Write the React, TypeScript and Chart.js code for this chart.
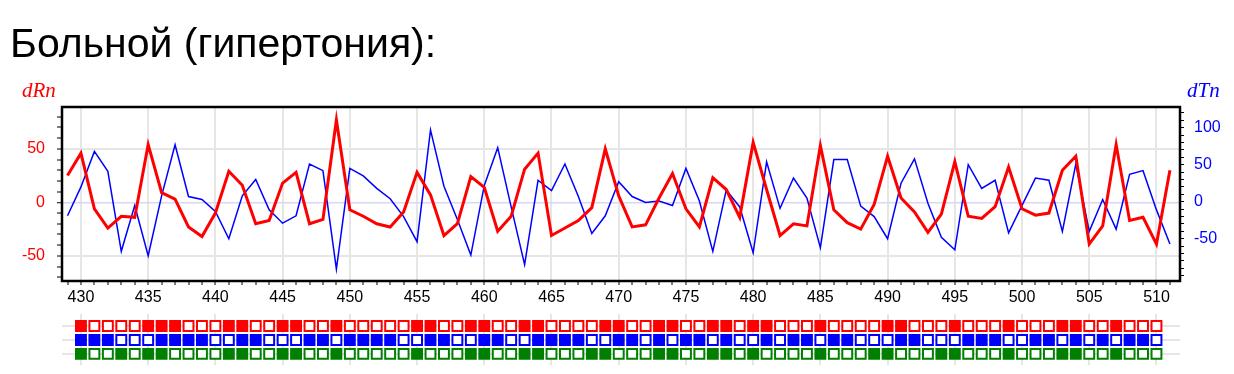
import React, { useEffect, useRef } from 'react';
import { Chart, registerables } from 'chart.js';

Chart.register(...registerables);

const titleText = 'Больной (гипертония):';
const leftAxisTitle = 'dRn';
const rightAxisTitle = 'dTn';

// first measurement index of the line series
const firstIndex = 429;

// dRn (red, left axis), indices 429..511
const dRn = [
  25, 46, -6, -24, -13, -14, 54, 9, 3, -23,
  -32, -10, 29, 16, -20, -17, 18, 28, -20, -16,
  77, -7, -13, -20, -23, -9, 28, 7, -31, -20,
  24, 14, -27, -13, 31, 46, -31, -24, -17, -5,
  50, 6, -23, -21, 4, 27, -6, -23, 23, 12,
  -14, 56, 12, -31, -20, -22, 53, -7, -19, -25,
  -2, 43, 4, -9, -28, -11, 38, -13, -15, -4,
  33, -6, -12, -10, 30, 43, -39, -22, 54, -17,
  -14, -39, 30,
];

// dTn (blue, right axis), indices 429..511
const dTn = [
  -19, 20, 68, 41, -67, -5, -73, 8, 77, 7,
  3, -13, -50, 8, 30, -11, -29, -19, 51, 42,
  -91, 45, 35, 18, 4, -20, -54, 97, 21, -24,
  -72, 22, 73, -7, -85, 29, 15, 51, 7, -43,
  -19, 27, 7, -1, 1, -5, 45, 1, -67, 16,
  -7, -69, 54, -9, 32, 5, -62, 57, 57, -6,
  -20, -50, 25, 58, -2, -48, -65, 50, 18, 29,
  -42, -5, 32, 29, -40, 51, -40, 3, -37, 37,
  42, -11, -57,
];

// indicator rows (1 = filled square, 0 = empty square), indices 430..510
const flagStart = 430;
const redFlags = [
  1, 0, 0, 0, 0, 1, 1, 1, 0, 0, 0, 1, 1, 0, 0, 1, 1, 0, 0, 1,
  0, 0, 0, 0, 0, 1, 1, 0, 0, 1, 1, 0, 0, 1, 1, 0, 0, 0, 0, 1,
  1, 0, 0, 1, 1, 0, 0, 1, 1, 0, 1, 1, 0, 0, 0, 1, 0, 0, 0, 0,
  1, 1, 0, 0, 0, 1, 0, 0, 0, 1, 0, 0, 0, 1, 1, 0, 0, 1, 0, 0,
  0,
];
const blueFlags = [
  1, 1, 1, 0, 0, 0, 1, 1, 1, 1, 0, 0, 1, 1, 0, 0, 0, 1, 1, 0,
  1, 1, 1, 1, 0, 0, 1, 1, 0, 0, 1, 1, 0, 0, 1, 1, 1, 1, 0, 0,
  1, 1, 0, 1, 0, 1, 1, 0, 1, 0, 0, 1, 0, 1, 1, 0, 1, 1, 0, 0,
  0, 1, 1, 0, 0, 0, 1, 1, 1, 0, 0, 1, 1, 0, 1, 0, 1, 0, 1, 1,
  0,
];
const greenFlags = [
  1, 0, 0, 1, 0, 1, 1, 0, 0, 0, 0, 1, 1, 0, 0, 1, 1, 0, 0, 1,
  0, 0, 0, 0, 0, 1, 0, 0, 0, 1, 1, 0, 0, 1, 1, 0, 0, 0, 1, 1,
  0, 0, 0, 1, 1, 0, 0, 1, 1, 0, 1, 0, 0, 0, 0, 1, 0, 0, 0, 1,
  1, 0, 0, 0, 1, 1, 0, 0, 0, 1, 0, 0, 0, 1, 1, 0, 0, 1, 0, 0,
  0,
];

const xTickLabelStep = 5;
const leftTickLabels = [-50, 0, 50];
const rightTickLabels = [-50, 0, 50, 100];

const RED = '#ff0000';
const BLUE = '#0000ff';
const GREEN = '#008000';
const GRID = '#e6e6e6';
const ZERO = '#d8d8f6';
const TRANSPARENT = 'rgba(0,0,0,0)';

const X_MIN = 428.59;
const X_MAX = 511.75;

const W = 1234;
const H1 = 305;
const H2 = 69;

const integerTicks = (scale: any, step: number) => {
  const out: any[] = [];
  const start = Math.ceil(scale.min / step);
  const end = Math.floor(scale.max / step);
  for (let k = start; k <= end; k++) out.push({ value: k * step });
  scale.ticks = out;
};

const decorPlugin = {
  id: 'decor',
  afterDraw(chart: any) {
    const { ctx, chartArea: a } = chart;
    ctx.save();
    ctx.strokeStyle = '#000';
    ctx.lineWidth = 2.5;
    ctx.strokeRect(a.left, a.top, a.right - a.left, a.bottom - a.top);
    ctx.textAlign = 'left';
    ctx.textBaseline = 'alphabetic';
    ctx.fillStyle = '#000';
    ctx.font = '41px "Liberation Sans", Arial, sans-serif';
    ctx.fillText(titleText, 10, 57);
    ctx.font = 'italic 21px "Liberation Serif", "Times New Roman", serif';
    ctx.fillStyle = RED;
    ctx.fillText(leftAxisTitle, 22, 97);
    ctx.fillStyle = BLUE;
    ctx.fillText(rightAxisTitle, 1187, 97);
    ctx.restore();
  },
};

export default function App() {
  const lineRef = useRef<HTMLCanvasElement | null>(null);
  const flagRef = useRef<HTMLCanvasElement | null>(null);

  useEffect(() => {
    document.body.style.margin = '0';
    const font = { family: '"Liberation Sans", Arial, sans-serif', size: 16 };

    const lineChart = new Chart(lineRef.current as HTMLCanvasElement, {
      type: 'line',
      data: {
        datasets: [
          {
            label: 'dRn',
            data: dRn.map((v, i) => ({ x: firstIndex + i, y: v })),
            borderColor: RED,
            backgroundColor: RED,
            borderWidth: 3,
            pointRadius: 0,
            tension: 0,
            yAxisID: 'y',
          },
          {
            label: 'dTn',
            data: dTn.map((v, i) => ({ x: firstIndex + i, y: v })),
            borderColor: BLUE,
            backgroundColor: BLUE,
            borderWidth: 1.5,
            pointRadius: 0,
            tension: 0,
            yAxisID: 'y1',
          },
        ],
      },
      options: {
        animation: false,
        responsive: false,
        layout: { padding: { top: 107, left: 0, right: 0, bottom: 0 } },
        plugins: { legend: { display: false }, tooltip: { enabled: false }, title: { display: false } },
        scales: {
          x: {
            type: 'linear',
            min: X_MIN,
            max: X_MAX,
            afterBuildTicks: (s: any) => integerTicks(s, 1),
            afterFit: (s: any) => { s.height = 24; },
            ticks: {
              autoSkip: false,
              maxRotation: 0,
              minRotation: 0,
              padding: 3,
              color: '#000',
              font,
              callback: (v: any) => (v % xTickLabelStep === 0 ? String(v) : ''),
            },
            grid: {
              lineWidth: 2,
              tickLength: 4,
              tickWidth: 1,
              color: (c: any) => (c.tick && c.tick.value % xTickLabelStep === 0 ? GRID : TRANSPARENT),
              tickColor: '#000',
            },
            border: { display: false },
          },
          y: {
            type: 'linear',
            position: 'left',
            min: -73.5,
            max: 89.1,
            afterBuildTicks: (s: any) => integerTicks(s, 10),
            afterFit: (s: any) => { s.width = 62; },
            ticks: {
              autoSkip: false,
              padding: 12,
              color: RED,
              font,
              callback: (v: any) => (leftTickLabels.includes(v) ? String(v) : ''),
            },
            grid: {
              lineWidth: (c: any) => (c.tick && c.tick.value === 0 ? 1.5 : 2),
              tickLength: 5,
              tickWidth: 1,
              color: (c: any) => {
                if (!c.tick) return TRANSPARENT;
                if (c.tick.value === 0) return ZERO;
                return leftTickLabels.includes(c.tick.value) ? GRID : TRANSPARENT;
              },
              tickColor: '#000',
            },
            border: { display: false },
          },
          y1: {
            type: 'linear',
            position: 'right',
            min: -107.1,
            max: 128,
            afterBuildTicks: (s: any) => integerTicks(s, 10),
            afterFit: (s: any) => { s.width = 54; },
            ticks: {
              autoSkip: false,
              padding: 10,
              color: BLUE,
              font,
              callback: (v: any) => (rightTickLabels.includes(v) ? String(v) : ''),
            },
            grid: {
              drawOnChartArea: false,
              tickLength: 4,
              tickWidth: 1,
              tickColor: '#000',
            },
            border: { display: false },
          },
        },
      },
      plugins: [decorPlugin],
    } as any);

    const rows = [
      { flags: redFlags, color: RED, row: 1 },
      { flags: blueFlags, color: BLUE, row: 2 },
      { flags: greenFlags, color: GREEN, row: 3 },
    ];

    const flagChart = new Chart(flagRef.current as HTMLCanvasElement, {
      type: 'scatter',
      data: {
        datasets: rows.map((r) => ({
          data: r.flags.map((_, i) => ({ x: flagStart + i, y: r.row })),
          pointStyle: 'rect',
          pointRadius: 7,
          pointHoverRadius: 7,
          borderWidth: 2,
          borderColor: r.color,
          backgroundColor: r.flags.map((f) => (f ? r.color : '#ffffff')),
          showLine: false,
        })),
      },
      options: {
        animation: false,
        responsive: false,
        layout: { padding: { top: 8, bottom: 6, left: 62, right: 54 } },
        plugins: { legend: { display: false }, tooltip: { enabled: false } },
        scales: {
          x: {
            type: 'linear',
            min: X_MIN,
            max: X_MAX,
            afterBuildTicks: (s: any) => integerTicks(s, xTickLabelStep),
            afterFit: (s: any) => { s.height = 0; },
            ticks: { display: false },
            grid: { color: GRID, lineWidth: 2, drawTicks: false },
            border: { display: false },
          },
          y: {
            type: 'linear',
            min: 0.133,
            max: 3.8,
            reverse: true,
            afterBuildTicks: (s: any) => { s.ticks = rows.map((r) => ({ value: r.row })); },
            afterFit: (s: any) => { s.width = 0; },
            ticks: { display: false },
            grid: { color: GRID, lineWidth: 2, drawTicks: false },
            border: { display: false },
          },
        },
      },
    } as any);

    return () => {
      lineChart.destroy();
      flagChart.destroy();
    };
  }, []);

  return (
    <div style={{ position: 'relative', width: W, height: H1 + H2, background: '#fff' }}>
      <canvas ref={lineRef} width={W} height={H1} style={{ position: 'absolute', left: 0, top: 0, width: W, height: H1 }} />
      <canvas ref={flagRef} width={W} height={H2} style={{ position: 'absolute', left: 0, top: H1, width: W, height: H2 }} />
    </div>
  );
}
